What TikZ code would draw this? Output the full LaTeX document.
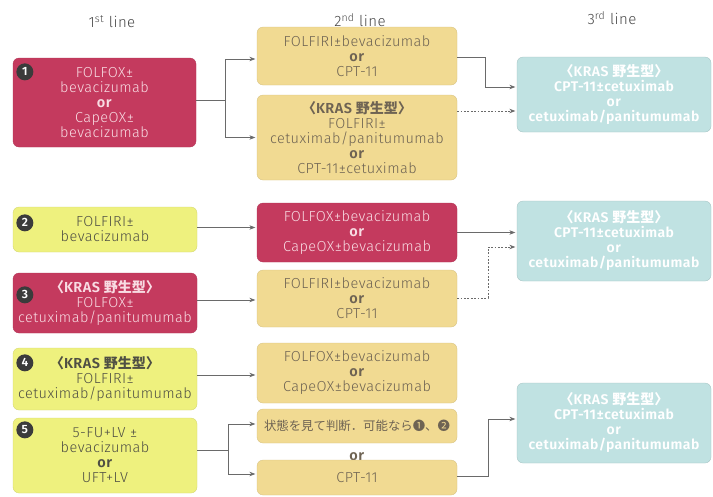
\documentclass[tikz,border=0pt]{standalone}
\usepackage{fontspec}
\setmainfont{Fira Sans}[UprightFont={* Light}, BoldFont={* SemiBold}, LetterSpace=3]
\newfontfamily\jp{Noto Sans CJK JP}
\usetikzlibrary{arrows.meta,calc}

\definecolor{crimson}{HTML}{C43A5E}
\definecolor{crimsontext}{HTML}{F8DCE3}
\definecolor{lime}{HTML}{EEF17E}
\definecolor{limetext}{HTML}{4F4F44}
\definecolor{tan}{HTML}{F1DA92}
\definecolor{tantext}{HTML}{6E6353}
\definecolor{aqua}{HTML}{C0E2E2}
\definecolor{linegray}{HTML}{6A6A6A}
\definecolor{badgegray}{HTML}{3B3B3B}

% bold "<KRAS wild type>" heading used in several boxes
\newcommand\krasline{{\jp\bfseries\fontsize{14}{15}\selectfont 〈}{\bfseries KRAS }{\jp\bfseries\fontsize{14}{15}\selectfont 野生型〉}}
\newcommand\orword{\textbf{or}}

\begin{document}
\begin{tikzpicture}[x=1pt,y=-1pt,
  box/.style={rounded corners=6pt, align=center, inner sep=0pt,
    font=\fontsize{14.5}{15}\selectfont},
  redbox/.style={box, fill=crimson, draw=crimson!90!black, line width=0.3pt, text=crimsontext},
  limebox/.style={box, fill=lime, draw=lime!88!black, line width=0.3pt, text=limetext},
  tanbox/.style={box, fill=tan, draw=tan!88!black, line width=0.3pt, text=tantext},
  aquabox/.style={box, fill=aqua, draw=aqua!85!black, line width=0.3pt, text=white,
    font=\fontsize{14}{15}\selectfont\bfseries},
  badge/.style={circle, fill=badgegray, text=white, minimum size=17pt, inner sep=0pt,
    font=\fontsize{12}{12}\selectfont\bfseries},
  hdr/.style={text=black!72, font=\fontsize{15}{17}\selectfont},
  conn/.style={draw=linegray, line width=0.7pt},
  arr/.style={conn, -{Stealth[length=6pt,width=4.5pt]}, shorten >=1.5pt},
  dotline/.style={dash pattern=on 1.8pt off 1.6pt}
]
\useasboundingbox (0,0) rectangle (713,496);

% column headings
\node[hdr] (h1) at (112,22) {1\textsuperscript{st} line};
\node[hdr] (h2) at (360,20) {2\textsuperscript{nd} line};
\node[hdr] (h3) at (612,18) {3\textsuperscript{rd} line};

% first line regimens
\node[redbox, minimum width=183pt, minimum height=89pt] (n1) at (104.5,102.5)
  {FOLFOX±\\bevacizumab\\\orword\\CapeOX±\\bevacizumab};
\node[limebox, minimum width=184pt, minimum height=45pt] (n2) at (105,229.5)
  {FOLFIRI±\\bevacizumab};
\node[redbox, minimum width=184pt, minimum height=60pt] (n3) at (105,303)
  {\krasline\\FOLFOX±\\cetuximab/panitumumab};
\node[limebox, minimum width=184pt, minimum height=62pt] (n4) at (105,379)
  {\krasline\\FOLFIRI±\\cetuximab/panitumumab};
\node[limebox, minimum width=184pt, minimum height=75pt] (n5) at (105,455.5)
  {5-FU+LV ±\\bevacizumab\\\orword\\UFT+LV};

\node[badge] (b1) at ($(n1.north west)+(12,14)$) {1};
\node[badge] (b2) at ($(n2.north west)+(12,16)$) {2};
\node[badge] (b3) at ($(n3.north west)+(12,22)$) {3};
\node[badge] (b4) at ($(n4.north west)+(12,15)$) {4};
\node[badge] (b5) at ($(n5.north west)+(12,12)$) {5};

% second line regimens
\node[tanbox, minimum width=200pt, minimum height=58pt] (sA) at (357,56)
  {FOLFIRI±bevacizumab\\\orword\\CPT-11};
\node[tanbox, minimum width=200pt, minimum height=85pt] (sB) at (357,137.5)
  {\krasline\\FOLFIRI±\\cetuximab/panitumumab\\\orword\\CPT-11±cetuximab};
\node[redbox, minimum width=200pt, minimum height=59pt] (sC) at (357,232.5)
  {FOLFOX±bevacizumab\\\orword\\CapeOX±bevacizumab};
\node[tanbox, minimum width=200pt, minimum height=57pt] (sD) at (357,298.5)
  {FOLFIRI±bevacizumab\\\orword\\CPT-11};
\node[tanbox, minimum width=200pt, minimum height=60pt] (sE) at (357,373)
  {FOLFOX±bevacizumab\\\orword\\CapeOX±bevacizumab};
\node[tanbox, minimum width=200pt, minimum height=34pt] (sF) at (357,426)
  {{\jp\fontsize{12.4}{15}\selectfont 状態を見て判断．可能なら❶、❷}};
\node[text=tantext, font=\fontsize{14.5}{15}\selectfont] (orFG) at (357,457) {\orword};
\node[tanbox, minimum width=200pt, minimum height=35pt] (sG) at (357,477.5)
  {CPT-11};

% third line regimens
\node[aquabox, minimum width=194pt, minimum height=75pt] (t1) at (614,94.5)
  {\krasline\\CPT-11±cetuximab\\\orword\\cetuximab/panitumumab};
\node[aquabox, minimum width=194pt, minimum height=80pt] (t2) at (614,241)
  {\krasline\\CPT-11±cetuximab\\\orword\\cetuximab/panitumumab};
\node[aquabox, minimum width=194pt, minimum height=80pt] (t3) at (614,423)
  {\krasline\\CPT-11±cetuximab\\\orword\\cetuximab/panitumumab};

% connectors: regimen 1
\coordinate (j1) at (225,100);
\draw[conn] (n1.east |- j1) -- (j1);
\draw[arr] (j1) |- ($(sA.west)+(0,3)$);
\draw[arr] (j1) |- (sB.west);
\coordinate (k1) at (485,57);
\draw[arr] (sA.east |- k1) -- (k1) |- ($(t1.west)+(0,-7.5)$);
\draw[arr, dotline] ($(sB.east)+(0,-26.5)$) -- ($(t1.west)+(0,16.5)$);

% connectors: regimens 2 and 3
\draw[arr] ($(n2.east)+(0,-2)$) -- ($(sC.west)+(0,-5)$);
\draw[arr] ($(n3.east)+(0,-3)$) -- ($(sD.west)+(0,1.5)$);
\draw[arr] (sC.east) -- (t2.west |- sC.east);
\coordinate (k2) at (488,298);
\draw[arr, dotline] (sD.east |- k2) -- (k2) |- ($(t2.west)+(0,6)$);

% connectors: regimens 4 and 5
\draw[arr] ($(n4.east)+(0,-4)$) -- ($(sE.west)+(0,2)$);
\coordinate (j5) at (228,450);
\draw[conn] (n5.east |- j5) -- (j5);
\draw[arr] (j5) |- ($(sF.west)+(0,-2)$);
\draw[arr] (j5) |- ($(sG.west)+(0,-3.5)$);
\coordinate (k5) at (488,476);
\draw[arr] (sG.east |- k5) -- (k5) |- ($(t3.west)+(0,-4)$);
\end{tikzpicture}
\end{document}
